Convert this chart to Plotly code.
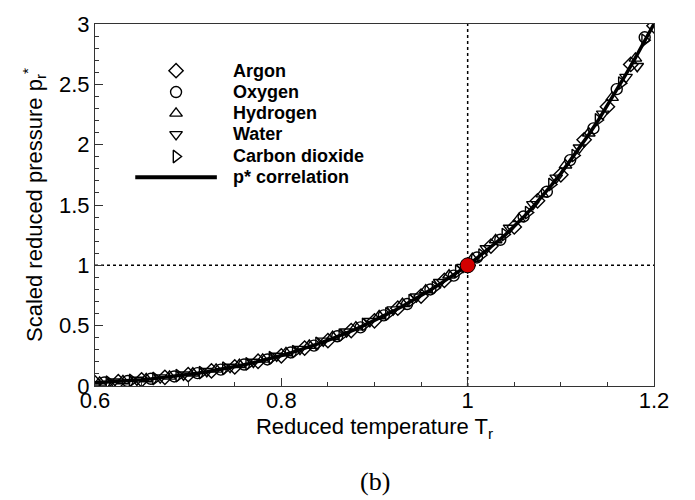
import plotly.graph_objects as go

# ---- data ----
corr_T = [0.60, 0.61, 0.62, 0.63, 0.64, 0.65, 0.66, 0.67, 0.68, 0.69, 0.70, 0.71, 0.72, 0.73, 0.74,
          0.75, 0.76, 0.77, 0.78, 0.79, 0.80, 0.81, 0.82, 0.83, 0.84, 0.85, 0.86, 0.87, 0.88, 0.89,
          0.90, 0.91, 0.92, 0.93, 0.94, 0.95, 0.96, 0.97, 0.98, 0.99, 1.00, 1.01, 1.02, 1.03, 1.04,
          1.05, 1.06, 1.07, 1.08, 1.09, 1.10, 1.11, 1.12, 1.13, 1.14, 1.15, 1.16, 1.17, 1.18, 1.19, 1.20]
corr_p = [0.026, 0.030, 0.034, 0.039, 0.045, 0.052, 0.059, 0.067, 0.075, 0.085, 0.095, 0.106, 0.118,
          0.131, 0.145, 0.160, 0.176, 0.194, 0.212, 0.232, 0.253, 0.275, 0.299, 0.324, 0.351, 0.379,
          0.409, 0.440, 0.472, 0.507, 0.543, 0.581, 0.620, 0.661, 0.704, 0.749, 0.795, 0.844, 0.894,
          0.946, 1.000, 1.060, 1.120, 1.185, 1.250, 1.325, 1.400, 1.485, 1.570, 1.665, 1.760, 1.865,
          1.970, 2.085, 2.200, 2.325, 2.450, 2.585, 2.720, 2.860, 3.000]

argon_T = [0.600, 0.625, 0.650, 0.675, 0.700, 0.725, 0.750, 0.775, 0.800, 0.825, 0.850, 0.875, 0.900,
           0.925, 0.950, 0.975, 1.000, 1.025, 1.050, 1.075, 1.100, 1.125, 1.150, 1.175, 1.200]
argon_p = [0.025, 0.036, 0.051, 0.072, 0.094, 0.125, 0.158, 0.205, 0.250, 0.314, 0.376, 0.459, 0.540,
           0.645, 0.745, 0.875, 0.995, 1.160, 1.318, 1.535, 1.750, 2.040, 2.315, 2.665, 2.985]

hydrogen_T = [0.605, 0.630, 0.655, 0.680, 0.705, 0.730, 0.755, 0.780, 0.805, 0.830, 0.855, 0.880,
              0.905, 0.930, 0.955, 0.980, 1.005, 1.030, 1.055, 1.080, 1.105, 1.130, 1.155, 1.180]
hydrogen_p = [0.030, 0.042, 0.058, 0.080, 0.106, 0.138, 0.176, 0.221, 0.274, 0.336, 0.408, 0.488,
              0.580, 0.682, 0.795, 0.918, 1.055, 1.210, 1.385, 1.590, 1.830, 2.095, 2.390, 2.715]

oxygen_T = [0.610, 0.635, 0.660, 0.685, 0.710, 0.735, 0.760, 0.785, 0.810, 0.835, 0.860, 0.885,
            0.910, 0.935, 0.960, 0.985, 1.010, 1.035, 1.060, 1.085, 1.110, 1.135, 1.160, 1.190]
oxygen_p = [0.029, 0.041, 0.060, 0.079, 0.107, 0.136, 0.178, 0.220, 0.278, 0.335, 0.412, 0.486,
            0.585, 0.679, 0.800, 0.915, 1.065, 1.212, 1.405, 1.610, 1.872, 2.135, 2.460, 2.890]

co2_T = [0.615, 0.640, 0.665, 0.690, 0.715, 0.740, 0.765, 0.790, 0.815, 0.840, 0.865, 0.890,
         0.915, 0.940, 0.965, 0.990, 1.015, 1.040, 1.065, 1.090, 1.115, 1.140, 1.165, 1.190]
co2_p = [0.031, 0.046, 0.062, 0.086, 0.111, 0.147, 0.183, 0.234, 0.285, 0.354, 0.421, 0.510,
         0.597, 0.708, 0.815, 0.950, 1.085, 1.255, 1.437, 1.670, 1.910, 2.205, 2.510, 2.865]

water_T = [0.620, 0.645, 0.670, 0.695, 0.720, 0.745, 0.770, 0.795, 0.820, 0.845, 0.870, 0.895,
           0.920, 0.945, 0.970, 0.995, 1.020, 1.045, 1.070, 1.095, 1.120, 1.145, 1.170, 1.182]
water_p = [0.035, 0.050, 0.069, 0.093, 0.122, 0.157, 0.199, 0.249, 0.306, 0.374, 0.450, 0.536,
           0.633, 0.740, 0.860, 0.985, 1.140, 1.310, 1.505, 1.725, 1.975, 2.255, 2.560, 2.650]

critical_T = [1.0]
critical_p = [1.0]

x_ticks = [0.6, 0.8, 1.0, 1.2]
x_ticklabels = ["0.6", "0.8", "1", "1.2"]
y_ticks = [0, 0.5, 1, 1.5, 2, 2.5, 3]
y_ticklabels = ["0", "0.5", "1", "1.5", "2", "2.5", "3"]

species = [
    ("Argon", argon_T, argon_p, "diamond-open", 11),
    ("Oxygen", oxygen_T, oxygen_p, "circle-open", 11),
    ("Hydrogen", hydrogen_T, hydrogen_p, "triangle-up-open", 11),
    ("Water", water_T, water_p, "triangle-down-open", 11),
    ("Carbon dioxide", co2_T, co2_p, "triangle-right-open", 11),
]

FONT = "Liberation Sans, Arial, sans-serif"

fig = go.Figure()

# correlation curve
fig.add_trace(go.Scatter(x=corr_T, y=corr_p, mode="lines",
                         line=dict(color="black", width=3.5), showlegend=False,
                         name="p* correlation"))

for name, T, p, sym, sz in species:
    fig.add_trace(go.Scatter(x=T, y=p, mode="markers", name=name, showlegend=False,
                             marker=dict(symbol=sym, size=sz, color="black",
                                         line=dict(color="black", width=1.4))))

fig.add_trace(go.Scatter(x=critical_T, y=critical_p, mode="markers", showlegend=False,
                         marker=dict(symbol="circle", size=15, color="#d20000",
                                     line=dict(color="black", width=1))))

# dotted reference lines through the critical point
fig.add_shape(type="line", xref="x", yref="paper", x0=critical_T[0], x1=critical_T[0], y0=0, y1=1,
              line=dict(color="black", width=1.5, dash="dot"), layer="below")
fig.add_shape(type="line", xref="paper", yref="y", x0=0, x1=1, y0=critical_p[0], y1=critical_p[0],
              line=dict(color="black", width=1.5, dash="dot"), layer="below")

# custom legend (helper axes in [0,1] over the plot area)
leg_rows = [0.871, 0.812, 0.753, 0.695, 0.634]
sym_x = 0.145
text_x = 0.243
for (name, T, p, sym, sz), yy in zip(species, leg_rows):
    fig.add_trace(go.Scatter(x=[sym_x], y=[yy], xaxis="x2", yaxis="y2", mode="markers",
                             showlegend=False, hoverinfo="skip",
                             marker=dict(symbol=sym, size=sz, color="black",
                                         line=dict(color="black", width=1.4))))
    fig.add_annotation(x=text_x, y=yy, xref="x2", yref="y2", text="<b>%s</b>" % name,
                       showarrow=False, xanchor="left", yanchor="middle",
                       font=dict(family=FONT, size=18, color="black"))
line_row = 0.577
fig.add_trace(go.Scatter(x=[0.072, 0.218], y=[line_row, line_row], xaxis="x2", yaxis="y2",
                         mode="lines", line=dict(color="black", width=4),
                         showlegend=False, hoverinfo="skip"))
fig.add_annotation(x=text_x, y=line_row, xref="x2", yref="y2", text="<b>p* correlation</b>",
                   showarrow=False, xanchor="left", yanchor="middle",
                   font=dict(family=FONT, size=18, color="black"))

# panel label
fig.add_annotation(x=0.5, y=(386 - 484) / 371.0, xref="paper", yref="paper", text="(b)",
                   showarrow=False,
                   font=dict(family="Liberation Serif, DejaVu Serif, serif", size=26, color="black"),
                   xanchor="center", yanchor="middle")

axis_common = dict(showgrid=False, zeroline=False, showline=True, linecolor="#333",
                   linewidth=1, mirror=True, ticks="inside", tickcolor="#333",
                   ticklen=8, tickwidth=1,
                   tickfont=dict(family=FONT, size=22, color="black"))

fig.update_layout(
    width=695, height=500,
    margin=dict(l=95, r=41, t=15, b=114),
    paper_bgcolor="white", plot_bgcolor="white",
    showlegend=False,
    xaxis=dict(range=[0.6, 1.2], tickvals=x_ticks, ticktext=x_ticklabels,
               ticklabelstandoff=-5,
               minor=dict(dtick=0.05, tick0=0.6, ticks="inside", ticklen=4, tickcolor="#333"),
               title=dict(text="Reduced temperature T<sub>r</sub>", standoff=6,
                          font=dict(family=FONT, size=22, color="black")),
               **axis_common),
    yaxis=dict(range=[0, 3], tickvals=y_ticks, ticktext=y_ticklabels,
               minor=dict(dtick=0.1, tick0=0, ticks="inside", ticklen=4, tickcolor="#333"),
               title=dict(text="Scaled reduced pressure p<sub>r</sub><sup>*</sup>", standoff=10,
                          font=dict(family=FONT, size=22, color="black")),
               **axis_common),
    xaxis2=dict(range=[0, 1], overlaying="x", visible=False, fixedrange=True),
    yaxis2=dict(range=[0, 1], overlaying="y", visible=False, fixedrange=True),
)

fig.write_html("out.html")
